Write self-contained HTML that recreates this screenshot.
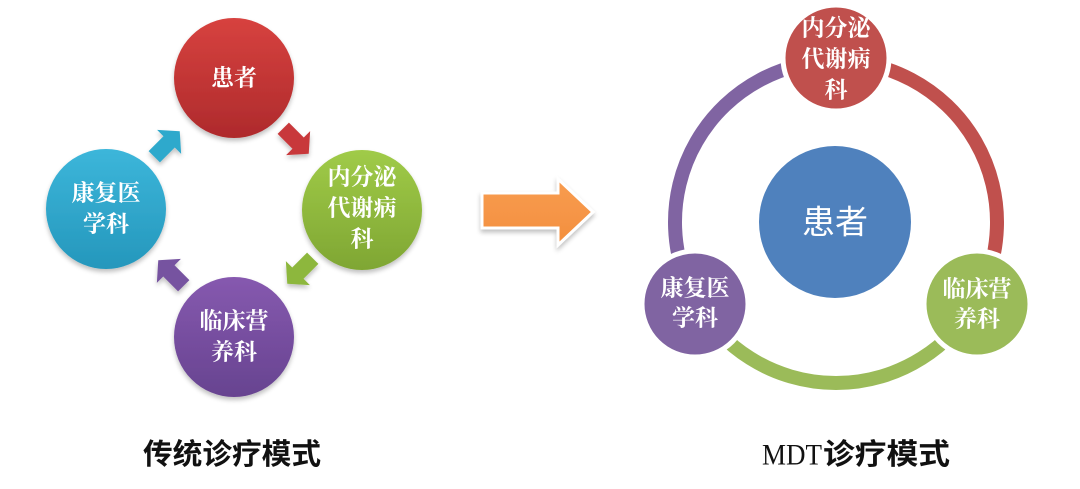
<!DOCTYPE html>
<html>
<head>
<meta charset="utf-8">
<style>
  html,body{margin:0;padding:0;background:#fff;}
  svg{display:block;}
  .nt{font-family:"Liberation Serif","Noto Serif CJK SC",serif;font-weight:bold;font-size:23px;fill:#fff;text-anchor:middle;dominant-baseline:central;}
  .cap{font-family:"Liberation Sans","Noto Sans CJK SC",sans-serif;font-weight:bold;font-size:29px;fill:#111;dominant-baseline:central;}
</style>
</head>
<body>
<svg width="1080" height="489" viewBox="0 0 1080 489" xmlns="http://www.w3.org/2000/svg">
  <defs>
    <linearGradient id="gRed" x1="0" y1="0" x2="0" y2="1">
      <stop offset="0" stop-color="#D7423F"/>
      <stop offset="1" stop-color="#AE2A2C"/>
    </linearGradient>
    <linearGradient id="gGreen" x1="0" y1="0" x2="0" y2="1">
      <stop offset="0" stop-color="#A0CB48"/>
      <stop offset="1" stop-color="#7FA633"/>
    </linearGradient>
    <linearGradient id="gBlue" x1="0" y1="0" x2="0" y2="1">
      <stop offset="0" stop-color="#3CB6DA"/>
      <stop offset="1" stop-color="#2597BC"/>
    </linearGradient>
    <linearGradient id="gPurple" x1="0" y1="0" x2="0" y2="1">
      <stop offset="0" stop-color="#8659AF"/>
      <stop offset="1" stop-color="#674390"/>
    </linearGradient>
    <linearGradient id="gOrange" x1="0" y1="0" x2="0" y2="1">
      <stop offset="0" stop-color="#F89C50"/>
      <stop offset="1" stop-color="#F38F3E"/>
    </linearGradient>
    <filter id="sh" x="-20%" y="-20%" width="140%" height="150%">
      <feGaussianBlur in="SourceAlpha" stdDeviation="2.5"/>
      <feOffset dx="0" dy="3" result="b"/>
      <feComponentTransfer><feFuncA type="linear" slope="0.25"/></feComponentTransfer>
      <feMerge><feMergeNode/><feMergeNode in="SourceGraphic"/></feMerge>
    </filter>
    <polygon id="arw" points="-18,-8 3,-8 3,-17 18,0 3,17 3,8 -18,8"/>
  </defs>

  <!-- LEFT: traditional -->
  <g filter="url(#sh)">
    <circle cx="234" cy="78" r="60" fill="url(#gRed)"/>
    <circle cx="362" cy="210" r="60" fill="url(#gGreen)"/>
    <circle cx="234" cy="337" r="60" fill="url(#gPurple)"/>
    <circle cx="106" cy="209" r="60" fill="url(#gBlue)"/>
  </g>

  <g filter="url(#sh)">
    <use href="#arw" transform="translate(296,141) rotate(45)" fill="#C8393A"/>
    <use href="#arw" transform="translate(300,271) rotate(135)" fill="#8DB73C"/>
    <use href="#arw" transform="translate(171,273) rotate(225)" fill="#7653A0"/>
    <use href="#arw" transform="translate(167,144) rotate(-45)" fill="#2FA9CC"/>
  </g>

  <text class="nt" x="234" y="78">患者</text>
  <text class="nt" x="362" y="177">内分泌</text>
  <text class="nt" x="362" y="208">代谢病</text>
  <text class="nt" x="362" y="239">科</text>
  <text class="nt" x="234" y="321">临床营</text>
  <text class="nt" x="234" y="352">养科</text>
  <text class="nt" x="106" y="193">康复医</text>
  <text class="nt" x="106" y="224">学科</text>

  <!-- middle orange arrow -->
  <g filter="url(#sh)">
    <polygon points="482,193 558,193 558,179 593,212 558,245 558,228 482,228" fill="url(#gOrange)" stroke="#fff" stroke-width="3" stroke-linejoin="miter"/>
  </g>

  <!-- RIGHT: MDT -->
  <g fill="none" stroke-width="14">
    <path d="M836,61 A161,161 0 0 1 975.43,302.5" stroke="#C0504D"/>
    <path d="M975.43,302.5 A161,161 0 0 1 696.57,302.5" stroke="#9BBB59"/>
    <path d="M696.57,302.5 A161,161 0 0 1 836,61" stroke="#8064A2"/>
  </g>
  <circle cx="835" cy="222" r="76" fill="#4F81BD"/>
  <text x="835" y="222" font-family="'Liberation Sans','Noto Sans CJK SC',sans-serif" font-size="33" fill="#fff" text-anchor="middle" dominant-baseline="central">患者</text>

  <circle cx="836" cy="58" r="53" fill="#C0504D" stroke="#fff" stroke-width="5"/>
  <circle cx="977" cy="304" r="53" fill="#9BBB59" stroke="#fff" stroke-width="5"/>
  <circle cx="695" cy="304" r="53" fill="#8064A2" stroke="#fff" stroke-width="5"/>

  <text class="nt" x="836" y="28">内分泌</text>
  <text class="nt" x="836" y="59">代谢病</text>
  <text class="nt" x="836" y="90">科</text>
  <text class="nt" x="977" y="289">临床营</text>
  <text class="nt" x="977" y="319">养科</text>
  <text class="nt" x="695" y="288">康复医</text>
  <text class="nt" x="695" y="318">学科</text>

  <!-- captions -->
  <text class="cap" x="143" y="455" textLength="178" lengthAdjust="spacingAndGlyphs">传统诊疗模式</text>
  <text x="762" y="455" font-family="'Liberation Serif',serif" font-size="30" fill="#111" dominant-baseline="central" textLength="60" lengthAdjust="spacingAndGlyphs">MDT</text>
  <text class="cap" x="823" y="455" textLength="127" lengthAdjust="spacingAndGlyphs">诊疗模式</text>
</svg>
</body>
</html>
